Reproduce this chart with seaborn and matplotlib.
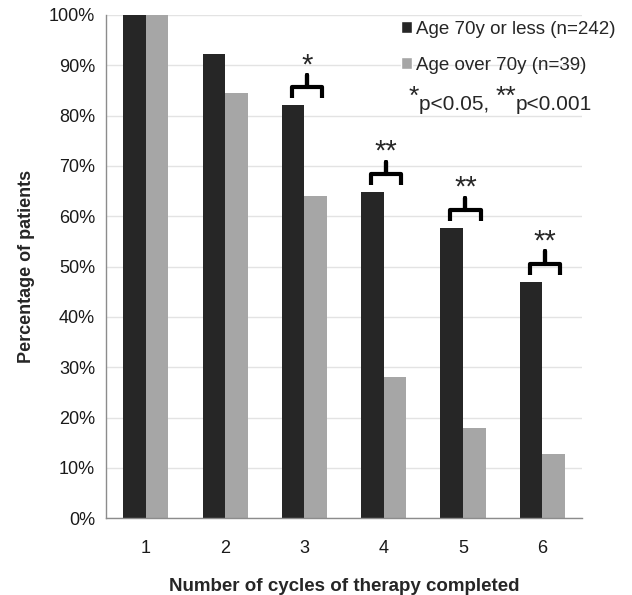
import numpy as np
import pandas as pd
import matplotlib
matplotlib.use("Agg")
import matplotlib.pyplot as plt
from matplotlib.patches import Patch
from matplotlib.ticker import PercentFormatter, FixedLocator
import seaborn as sns

cycles = ["1", "2", "3", "4", "5", "6"]
young = [100.0, 92.2, 82.0, 64.8, 57.7, 47.0]
old = [100.0, 84.4, 64.1, 28.1, 17.9, 12.8]
group_labels = ["Age 70y or less (n=242)", "Age over 70y (n=39)"]
signif = ["", "", "*", "**", "**", "**"]

df = pd.DataFrame({
    "cycle": cycles * 2,
    "pct": young + old,
    "group": [group_labels[0]] * 6 + [group_labels[1]] * 6,
})

sns.set_style("white")
plt.rcParams["font.family"] = ["Liberation Sans", "DejaVu Sans"]

colors = ["#262626", "#a6a6a6"]

fig = plt.figure(figsize=(6.32, 5.95), dpi=100)
ax = fig.add_axes([0.168, 0.129, 0.753, 0.846])

sns.barplot(data=df, x="cycle", y="pct", hue="group", palette=colors,
            width=0.57, saturation=1, linewidth=0, legend=False, ax=ax,
            zorder=2)

ax.set_ylim(0, 100)
ax.set_xlim(-0.5, 5.5)
ax.yaxis.set_major_locator(FixedLocator(np.arange(0, 101, 10)))
ax.yaxis.set_major_formatter(PercentFormatter(decimals=0))
ax.grid(axis="y", color="#e3e3e3", lw=1, zorder=0)
ax.set_axisbelow(True)
for s in ["top", "right"]:
    ax.spines[s].set_visible(False)
for s in ["left", "bottom"]:
    ax.spines[s].set_color("#8c8c8c")
    ax.spines[s].set_linewidth(1)

ax.tick_params(axis="both", labelsize=13, colors="#1a1a1a", length=0, pad=8)
ax.tick_params(axis="x", pad=16)
ax.xaxis.set_minor_locator(FixedLocator(np.arange(-0.5, 6, 1)))
ax.tick_params(axis="x", which="minor", length=6, color="#8c8c8c", direction="out")

ax.set_xlabel("Number of cycles of therapy completed", fontsize=13.5,
              fontweight="bold", labelpad=15)
ax.set_ylabel("Percentage of patients", fontsize=13, fontweight="bold",
              labelpad=10)

# significance brackets over each pair
for i, (v, s) in enumerate(zip(young, signif)):
    if not s:
        continue
    c = i + 0.03
    hw = 0.19
    base = v + 1.4
    mid = v + 3.6
    top = v + 6.0
    xs = [c - hw, c - hw, c, c, c, c + hw, c + hw]
    ys = [base, mid, mid, top, mid, mid, base]
    ax.plot(xs, ys, color="black", lw=3, solid_joinstyle="round",
            solid_capstyle="butt", zorder=3)
    ax.text(c, top - 0.8, s, ha="center", va="bottom", fontsize=21)

handles = [Patch(facecolor=colors[0]), Patch(facecolor=colors[1])]
ax.legend(handles, group_labels, loc="upper left", bbox_to_anchor=(0.603, 1.003),
          frameon=False, fontsize=13.5, handlelength=0.6, handleheight=0.6,
          handletextpad=0.2, labelspacing=1.0, borderaxespad=0)

# p-value note with raised stars
t = fig.text(0.647, 0.817, "*", fontsize=19, ha="left", va="bottom")
for part, size in [("p<0.05, ", 15), ("**", 19), ("p<0.001", 15)]:
    shift = 4 if part.startswith("*") else -4
    t = ax.annotate(part, xy=(1, 0), xycoords=t,
                    xytext=(0, shift), textcoords="offset points",
                    va="bottom", ha="left", fontsize=size)

fig.savefig("out.png", dpi=100)
